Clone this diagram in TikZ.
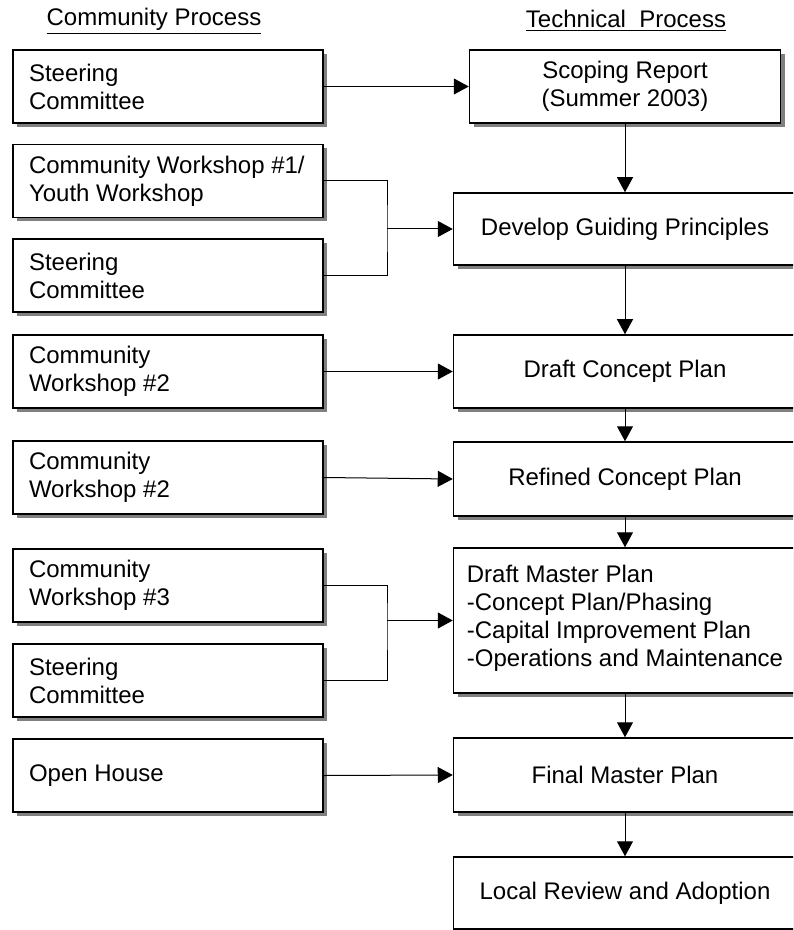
\documentclass[tikz,border=0pt]{standalone}
\usepackage{fontspec}
\setmainfont{Liberation Sans}
\usetikzlibrary{arrows.meta,shadows}
\begin{document}
\begin{tikzpicture}[x=0.5pt,y=-0.5pt,
  font=\fontsize{12}{14}\selectfont,
  boxbase/.style={draw=black, line width=0.75pt, fill=white, rectangle,
    drop shadow={shadow xshift=2pt, shadow yshift=-2pt, fill=black!50, opacity=1}},
  lbox/.style={boxbase, minimum width=155pt, minimum height=36.5pt,
    inner xsep=8pt, text width=139pt, align=flush left},
  rbox/.style={boxbase, minimum width=171.5pt, align=center},
  conn/.style={line width=0.5pt},
  arr/.style={conn, -{Triangle[length=7.5pt,width=8pt]}}
]
\useasboundingbox (0,0) rectangle (793,930);
\clip (0,0) rectangle (793,930);

\node (h1) at (154,21) {\underline{Community Process}};
\node (h2) at (626,21) {\underline{Technical\ \ Process}};

% left column
\node[lbox] (l1) at (168,86.5) {Steering\\Committee};
\node[lbox] (l2) at (168,181) {\mbox{Community Workshop \#1/}\\Youth Workshop};
\node[lbox] (l3) at (168,275.5) {Steering\\Committee};
\node[lbox] (l4) at (168,371.5) {Community\\Workshop \#2};
\node[lbox] (l5) at (168,477.5) {Community\\Workshop \#2};
\node[lbox] (l6) at (168,585.5) {Community\\Workshop \#3};
\node[lbox] (l7) at (168,680.5) {Steering\\Committee};
\node[lbox] (l8) at (168,775.5) {Open House};

% right column
\node[boxbase, minimum width=155.5pt, minimum height=36.5pt, align=center] (r1) at (625,86.5) {Scoping Report\\(Summer 2003)};
\node[rbox, minimum height=36pt] (r2) at (625,229) {Develop Guiding Principles};
\node[rbox, minimum height=36.5pt] (r3) at (625,371.5) {Draft Concept Plan};
\node[rbox, minimum height=37pt] (r4) at (625,479) {Refined Concept Plan};
\node[rbox, minimum height=72.5pt, align=left] (r5) at (625,620.5)
  {Draft Master Plan\\-Concept Plan/Phasing\\-Capital Improvement Plan\\-Operations and Maintenance\\[-9pt]\mbox{}};
\node[rbox, minimum height=37pt] (r6) at (625,775) {Final Master Plan};
\node[rbox, minimum height=36pt] (r7) at (625,893) {Local Review and Adoption};

% horizontal connectors
\draw[arr] (l1.east) -- (r1.west);
\coordinate (j1) at (387,229);
\draw[conn] (l2.east) -| (j1) |- (l3.east);
\draw[arr] (j1) -- (r2.west);
\draw[arr] (l4.east) -- (r3.west);
\draw[arr] (l5.east) -- (r4.west);
\coordinate (j2) at (387,620.5);
\draw[conn] (l6.east) -| (j2) |- (l7.east);
\draw[arr] (j2) -- (r5.west);
\draw[arr] (l8.east) -- (r6.west);

% vertical arrows
\draw[arr] (r1.south) -- (r2.north);
\draw[arr] (r2.south) -- (r3.north);
\draw[arr] (r3.south) -- (r4.north);
\draw[arr] (r4.south) -- (r5.north);
\draw[arr] (r5.south) -- (r6.north);
\draw[arr] (r6.south) -- (r7.north);
\end{tikzpicture}
\end{document}
